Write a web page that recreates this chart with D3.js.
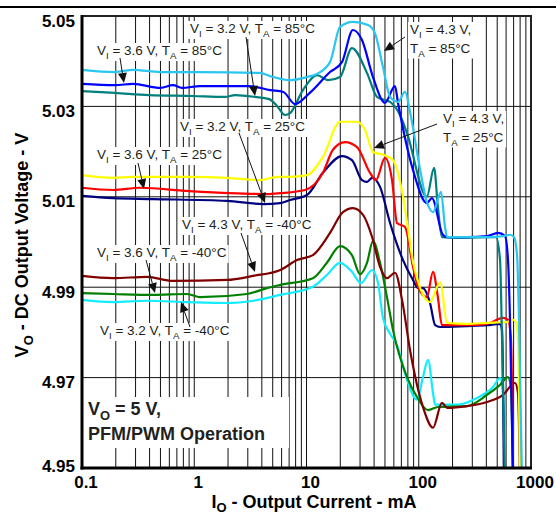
<!DOCTYPE html>
<html><head><meta charset="utf-8">
<script src="https://cdn.jsdelivr.net/npm/d3@7"></script>
<style>body{margin:0;background:#fff}svg{display:block}</style>
</head><body>
<svg id="c" width="556" height="516"></svg>
<script>
// ---------- data ----------
const xTicks = [0.1, 1, 10, 100, 1000];
const xTickLabels = ["0.1", "1", "10", "100", "1000"];
const yTicks = [4.95, 4.97, 4.99, 5.01, 5.03, 5.05];
const yTickLabels = ["4.95", "4.97", "4.99", "5.01", "5.03", "5.05"];
const seriesNames = ["VI=3.2V TA=-40C","VI=3.6V TA=-40C","VI=4.3V TA=-40C","VI=3.2V TA=25C","VI=3.6V TA=25C","VI=4.3V TA=25C","VI=3.2V TA=85C","VI=3.6V TA=85C","VI=4.3V TA=85C"];

// [output current mA, output voltage V]
const s32_m40 = [[0.1,4.9872],[0.189,4.9867],[0.379,4.9870],[0.862,4.9867],[1.96,4.9865],[3.34,4.9870],[5.84,4.9883],[11.4,4.9901],[15.2,4.9927],[19.9,4.9954],[25.4,4.9934],[30.6,4.9909],[38.4,4.9938],[43.4,4.9909],[48.0,4.9832],[55.5,4.9797],[64.0,4.9772],[78.6,4.9695],[96.5,4.9651],[109,4.9701],[121,4.9739],[134,4.9666],[140,4.9640],[219,4.9640],[330,4.9655],[459,4.9679],[530,4.9699],[564,4.9662],[587,4.947]];
const s36_m40 = [[0.1,4.9887],[0.189,4.9885],[0.429,4.9883],[0.862,4.9885],[1.125,4.9878],[2.95,4.9885],[4.45,4.9898],[5.84,4.9905],[11.4,4.9920],[15.2,4.9954],[19.9,4.9991],[25.4,4.9971],[30.0,4.9929],[34.6,4.9954],[39.1,5.0002],[45.2,4.9954],[52.1,4.9878],[59.0,4.9805],[78.6,4.9701],[96.5,4.9657],[121,4.9628],[148,4.9635],[269,4.9637],[406,4.9662],[530,4.9684],[624,4.9701],[664,4.9673],[692,4.947]];
const s43_m40 = [[0.1,4.9925],[0.189,4.9920],[0.379,4.9923],[0.647,4.9914],[1.96,4.9916],[3.34,4.9925],[5.84,4.9938],[8.23,4.9960],[11.4,4.9971],[16.2,5.0020],[21.1,5.0066],[25.9,5.0075],[31.9,5.0060],[38.4,5.0011],[45.2,4.9945],[52.1,4.9920],[61.4,4.9932],[71.0,4.9872],[83.6,4.9761],[109,4.9635],[134,4.9589],[161,4.9644],[179,4.9633],[269,4.9637],[406,4.9646],[564,4.9662],[721,4.9688],[766,4.9666],[798,4.947]];
const s32_25 = [[0.1,5.0102],[0.189,5.0097],[0.429,5.0095],[1.96,5.0091],[4.11,5.0084],[5.84,5.0086],[7.13,5.0093],[10.1,5.0104],[14.0,5.0153],[20.7,5.0190],[25.4,5.0181],[31.2,5.0137],[34.6,5.0133],[38.4,5.0142],[45.2,5.0122],[55.5,5.0042],[72.4,4.9960],[88.9,4.9916],[98.5,4.9898],[109,4.9898],[126,4.9865],[140,4.9816],[155,4.9812],[269,4.9814],[406,4.9816],[530,4.9819],[552,4.9805],[574,4.947]];
const s36_25 = [[0.1,5.0120],[0.189,5.0115],[0.328,5.0120],[0.862,5.0113],[2.08,5.0108],[4.45,5.0106],[5.84,5.0108],[9.70,5.0115],[14.0,5.0153],[17.2,5.0204],[22.0,5.0221],[28.2,5.0210],[36.8,5.0153],[41.6,5.0137],[50.0,5.0186],[57.8,5.0137],[64.0,5.0042],[75.5,5.0033],[88.9,4.9945],[98.5,4.9901],[118,4.9878],[134,4.9934],[148,4.9878],[161,4.9816],[269,4.9816],[406,4.9819],[564,4.9832],[624,4.9828],[664,4.9783],[692,4.947]];
const s43_25 = [[0.1,5.0148],[0.189,5.0142],[0.285,5.0144],[0.862,5.0144],[1.96,5.0142],[3.85,5.0137],[5.46,5.0144],[7.13,5.0144],[10.1,5.0148],[14.0,5.0188],[19.9,5.0266],[28.2,5.0266],[33.2,5.0248],[39.1,5.0199],[48.0,5.0193],[59.0,5.0181],[72.4,5.0100],[78.6,5.0044],[88.9,4.9956],[103,4.9898],[126,4.9867],[155,4.9911],[179,4.9821],[269,4.9819],[406,4.9821],[611,4.9823],[692,4.9828],[735,4.9823],[766,4.9783],[798,4.947]];
const s32_85 = [[0.1,5.0334],[0.197,5.0330],[0.395,5.0325],[0.96,5.0323],[1.88,5.0321],[2.31,5.0325],[3.48,5.0321],[4.65,5.0316],[5.46,5.0301],[6.43,5.0281],[7.13,5.0285],[9.30,5.0336],[12.4,5.0369],[15.6,5.0358],[19.9,5.0365],[25.4,5.0429],[34.6,5.0374],[42.5,5.0321],[50.0,5.0314],[55.5,5.0310],[68.1,5.0281],[78.6,5.0241],[118,5.0100],[137,5.0164],[148,5.0078],[161,5.0011],[269,5.0009],[406,5.0011],[488,5.0011],[530,4.9960],[552,4.9783],[587,4.947]];
const s36_85 = [[0.1,5.0350],[0.197,5.0347],[0.285,5.0350],[0.5,5.0341],[0.647,5.0347],[0.778,5.0341],[1.125,5.0345],[3.07,5.0345],[4.75,5.0336],[6.22,5.0332],[7.91,5.0305],[10.7,5.0330],[16.2,5.0376],[20.7,5.0398],[25.9,5.0469],[31.2,5.0447],[39.1,5.0365],[50.0,5.0308],[61.4,5.0345],[65.3,5.0308],[88.9,5.0159],[118,5.0086],[131,5.0097],[164,5.0016],[179,5.0011],[269,5.0011],[406,5.0013],[508,5.0020],[587,5.0013],[624,4.9960],[650,4.9828],[692,4.947]];
const s43_85 = [[0.1,5.0381],[0.197,5.0376],[0.285,5.0381],[0.5,5.0376],[1.125,5.0376],[3.85,5.0374],[4.75,5.0367],[7.13,5.0358],[10.1,5.0365],[12.4,5.0372],[16.2,5.0398],[19.9,5.0476],[25.9,5.0487],[35.3,5.0480],[40.7,5.0462],[48.0,5.0387],[55.5,5.0321],[65.3,5.0310],[75.5,5.0332],[83.6,5.0288],[103,5.0159],[118,5.0089],[134,5.0066],[158,5.0111],[171,5.0035],[179,5.0011],[269,5.0011],[406,5.0011],[564,5.0013],[650,5.0016],[706,5.0011],[751,4.9971],[782,4.9828],[832,4.947]];

const seriesData = [s32_m40, s36_m40, s43_m40, s32_25, s36_25, s43_25, s32_85, s36_85, s43_85];
const seriesColors = ["#12ecff", "#008000", "#800000", "#000080", "#ff0000", "#ffff00", "#00807c", "#0000ff", "#28c6f0"];

// annotations (layout)
const notes = [
  {lines:["V{I} = 3.6 V, T{A} = 85°C"], x:97, y:55, tail:[120,58], tip:[124,83]},
  {lines:["V{I} = 3.2 V, T{A} = 85°C"], x:190, y:33, tail:[246,37], tip:[255,96]},
  {lines:["V{I} = 4.3 V,","T{A} = 85°C"], x:410, y:34, tail:[405,37], tip:[384,51]},
  {lines:["V{I} = 3.2 V, T{A} = 25°C"], x:180, y:131, tail:[239,133], tip:[265,203]},
  {lines:["V{I} = 3.6 V, T{A} = 25°C"], x:97, y:159, tail:[138,163], tip:[144,189]},
  {lines:["V{I} = 4.3 V,","T{A} = 25°C"], x:443, y:123, tail:[437,124], tip:[374,148]},
  {lines:["V{I} = 4.3 V, T{A} = -40°C"], x:182, y:229, tail:[241,233], tip:[255,272]},
  {lines:["V{I} = 3.6 V, T{A} = -40°C"], x:97, y:257, tail:[146,260], tip:[155,293]},
  {lines:["V{I} = 3.2 V, T{A} = -40°C"], x:100, y:335, tail:[190,327], tip:[181,302]}
];

// ---------- chart ----------
const FONT = "'Liberation Sans', Arial, Helvetica, sans-serif";
const svg = d3.select("#c");
const L = 82, R = 531, T = 16, B = 468;
const x = d3.scaleLog().domain([0.1, 1000]).range([L, R]);
const y = d3.scaleLinear().domain([4.95, 5.05]).range([B, T]);

svg.append("rect").attr("width",556).attr("height",516).attr("fill","#fff");
svg.append("line").attr("x1",0).attr("x2",556).attr("y1",7).attr("y2",7).attr("stroke","#000").attr("stroke-width",2);

const grid = svg.append("g");
x.ticks().filter(v => v > 0.1 && v < 1000).forEach(v => {
  grid.append("line").attr("x1",x(v)).attr("x2",x(v)).attr("y1",T).attr("y2",B)
    .attr("stroke","#111").attr("stroke-width",1);
});
yTicks.filter(v => v > 4.95 && v < 5.05).forEach(v => {
  grid.append("line").attr("x1",L).attr("x2",R).attr("y1",y(v)).attr("y2",y(v))
    .attr("stroke","#111").attr("stroke-width",1);
});

const bgLayer = svg.append("g");
svg.append("clipPath").attr("id","clip").append("rect").attr("x",L).attr("y",T).attr("width",R-L).attr("height",B-T);
const dataLayer = svg.append("g").attr("clip-path","url(#clip)");
const fgLayer = svg.append("g");

const line = d3.line().x(d => x(d[0])).y(d => y(d[1])).curve(d3.curveMonotoneX);
seriesData.forEach((s, i) => {
  dataLayer.append("path").datum(s).attr("d", line).attr("fill","none")
    .attr("stroke", seriesColors[i]).attr("stroke-width", 2.2).attr("stroke-linejoin","round")
    .attr("data-name", seriesNames[i]);
});

// frame
svg.append("rect").attr("x",L).attr("y",T).attr("width",R-L).attr("height",B-T)
  .attr("fill","none").attr("stroke","#222").attr("stroke-width",2);
svg.append("line").attr("x1",L).attr("x2",L).attr("y1",T-1).attr("y2",B+1.5).attr("stroke","#000").attr("stroke-width",3);
svg.append("line").attr("x1",L-1.5).attr("x2",R+1).attr("y1",B).attr("y2",B).attr("stroke","#000").attr("stroke-width",3);

function rich(g, str, fs, subDy) {
  const parts = str.split(/(\{[^}]*\})/).filter(p => p.length);
  let shifted = false;
  parts.forEach(p => {
    const isSub = p[0] === "{";
    const ts = g.append("tspan").text(isSub ? p.slice(1, -1) : p);
    if (isSub) { ts.attr("font-size", fs * 0.72).attr("dy", subDy); shifted = true; }
    else if (shifted) { ts.attr("dy", -subDy); shifted = false; }
  });
}

// annotations
notes.forEach(n => {
  const g = fgLayer.append("g");
  const texts = n.lines.map((ln, k) => {
    const t = g.append("text").attr("x", n.x).attr("y", n.y + k * 18.5)
      .attr("font-family", FONT).attr("font-size", 13.5).attr("fill", "#231f20");
    rich(t, ln, 13.5, 4);
    return t;
  });
  let x0 = 1e9, y0 = 1e9, x1 = -1e9, y1 = -1e9;
  texts.forEach(t => { const b = t.node().getBBox(); x0 = Math.min(x0,b.x); y0 = Math.min(y0,b.y); x1 = Math.max(x1,b.x+b.width); y1 = Math.max(y1,b.y+b.height); });
  bgLayer.append("rect").attr("x", x0-2).attr("y", y0).attr("width", x1-x0+4).attr("height", y1-y0).attr("fill","#fff");
  // arrow
  const [tx, ty] = n.tail, [hx, hy] = n.tip;
  const dx = hx - tx, dy = hy - ty, len = Math.hypot(dx, dy), ux = dx/len, uy = dy/len;
  const hl = 10, hw = 4.5;
  const bx = hx - ux*hl, by = hy - uy*hl;
  g.append("line").attr("x1",tx).attr("y1",ty).attr("x2",bx).attr("y2",by).attr("stroke","#111").attr("stroke-width",1);
  g.append("path").attr("d", `M${hx},${hy}L${bx - uy*hw},${by + ux*hw}L${bx + uy*hw},${by - ux*hw}Z`).attr("fill","#111");
});

// operation note
{
  const g = fgLayer.append("g");
  const t1 = g.append("text").attr("x",88).attr("y",415).attr("font-family",FONT).attr("font-size",18).attr("font-weight","bold").attr("fill","#231f20");
  rich(t1, "V{O} = 5 V,", 18, 5);
  g.append("text").attr("x",88).attr("y",440).attr("font-family",FONT).attr("font-size",18).attr("font-weight","bold").attr("fill","#231f20").text("PFM/PWM Operation");
  bgLayer.append("rect").attr("x",L+2).attr("y",397).attr("width",205).attr("height",51).attr("fill","#fff");
}

// tick labels
xTicks.forEach((v, i) => {
  svg.append("text").attr("x", x(v) + 4).attr("y", 488).attr("text-anchor","middle")
    .attr("font-family",FONT).attr("font-size",17).attr("font-weight","bold").attr("fill","#000").text(xTickLabels[i]);
});
yTicks.forEach((v, i) => {
  svg.append("text").attr("x", 75).attr("y", Math.min(y(v) + 10.5, 472)).attr("text-anchor","end")
    .attr("font-family",FONT).attr("font-size",17).attr("font-weight","bold").attr("fill","#000").text(yTickLabels[i]);
});

// axis titles
{
  const t = svg.append("text").attr("x",314).attr("y",508).attr("text-anchor","middle")
    .attr("font-family",FONT).attr("font-size",18).attr("font-weight","bold").attr("fill","#000");
  rich(t, "I{O} - Output Current - mA", 18, 4);
  const t2 = svg.append("text").attr("transform","translate(28,245) rotate(-90)").attr("text-anchor","middle")
    .attr("font-family",FONT).attr("font-size",18).attr("font-weight","bold").attr("fill","#000");
  rich(t2, "V{O} - DC Output Voltage - V", 18, 5);
}
</script>
</body></html>
